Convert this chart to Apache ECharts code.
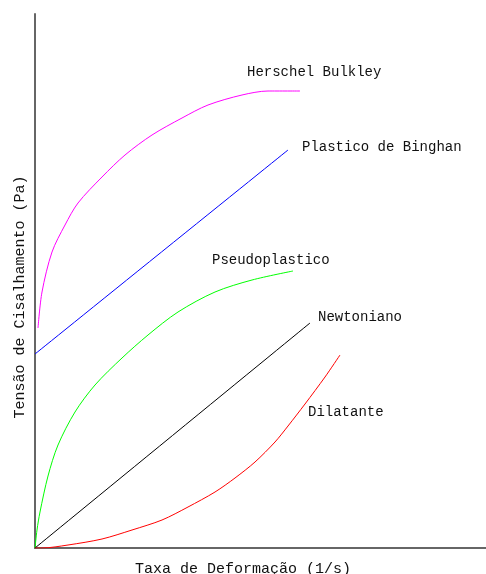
<!DOCTYPE html>
<html>
<head>
<meta charset="utf-8">
<script src="https://cdn.jsdelivr.net/npm/echarts@6/dist/echarts.min.js"></script>
<style>
  html, body { margin: 0; padding: 0; background: #fff; }
  #chart { width: 486px; height: 574px; }
</style>
</head>
<body>
<div id="chart"></div>
<script>
// curves, x = taxa de deformacao, y = tensao (arbitrary units)
const herschel = [[3, 220], [7, 256], [17, 296], [30, 323], [43, 345], [67, 371], [90, 393], [117, 413], [147, 430], [173, 443], [207, 453], [233, 457], [265, 457]];
const bingham = [[0, 194], [253, 398]];
const pseudo = [[0, 0], [2, 18], [5, 36], [13, 72], [23, 103], [40, 136], [60, 163], [87, 190], [113, 213], [143, 236], [180, 256], [217, 268], [258, 277]];
const newton = [[0, 0], [275, 225]];
const dilatante = [[0, 0], [7, 0], [33, 3], [67, 9], [97, 18], [127, 28], [153, 41], [180, 56], [200, 70], [220, 86], [240, 106], [253, 122], [270, 144], [290, 171], [305, 193]];
const seriesNames = ['Herschel Bulkley', 'Plastico de Binghan', 'Pseudoplastico', 'Newtoniano', 'Dilatante'];

const mono = 'Liberation Mono, DejaVu Sans Mono, monospace';

function curve(name, data, color, offset) {
  return {
    name: name,
    type: 'line',
    data: data,
    symbol: 'none',
    smooth: 0.3,
    lineStyle: { color: color, width: 1 },
    endLabel: {
      show: true,
      formatter: '{a}',
      offset: offset,
      fontFamily: mono,
      fontSize: 14,
      color: '#111'
    }
  };
}

const chart = echarts.init(document.getElementById('chart'));
chart.setOption({
  animation: false,
  grid: { left: 35, right: 0, top: 14, bottom: 26, outerBoundsMode: 'none' },
  xAxis: {
    type: 'value',
    min: 0,
    max: 451,
    name: 'Taxa de Deformação (1/s)',
    nameLocation: 'middle',
    nameGap: 14,
    nameTextStyle: { fontFamily: mono, fontSize: 15, color: '#111', padding: [0, 0, 0, -35] },
    axisLine: { lineStyle: { color: '#666', width: 2 } },
    axisTick: { show: false },
    axisLabel: { show: false },
    splitLine: { show: false }
  },
  yAxis: {
    type: 'value',
    min: 0,
    max: 534,
    name: 'Tensão de Cisalhamento (Pa)',
    nameLocation: 'middle',
    nameGap: 7,
    nameTextStyle: { fontFamily: mono, fontSize: 15, color: '#111', padding: [0, 32, 0, 0] },
    axisLine: { show: true, lineStyle: { color: '#666', width: 2 } },
    axisTick: { show: false },
    axisLabel: { show: false },
    splitLine: { show: false }
  },
  series: [
    curve(seriesNames[0], herschel, '#ff00ff', [-61, -19]),
    curve(seriesNames[1], bingham, '#0000ff', [6, -3]),
    curve(seriesNames[2], pseudo, '#00ff00', [-89, -11]),
    curve(seriesNames[3], newton, '#000000', [0, -6]),
    curve(seriesNames[4], dilatante, '#ff0000', [-40, 57])
  ]
});
</script>
</body>
</html>
